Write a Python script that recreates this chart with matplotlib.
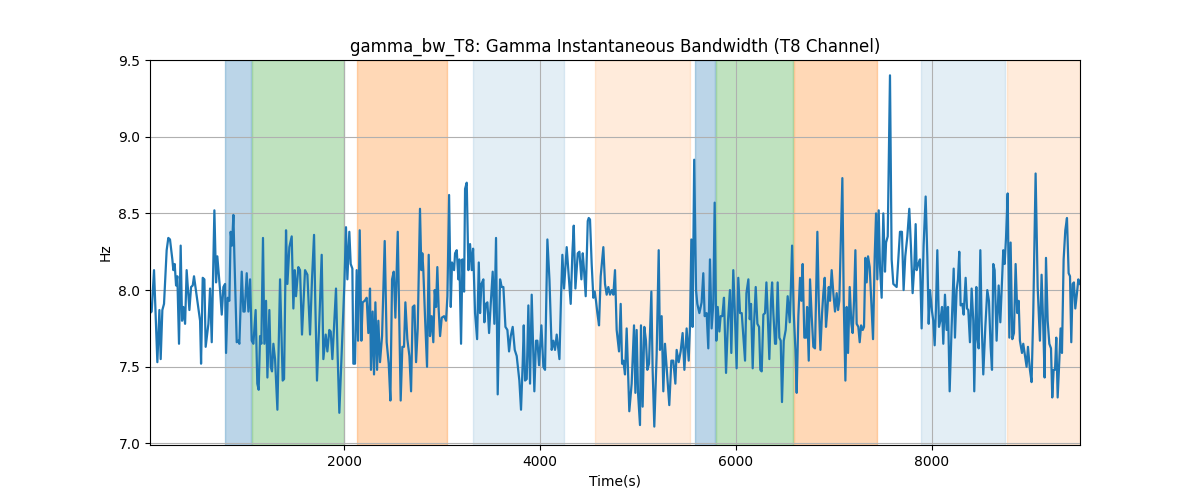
import numpy as np
import matplotlib
matplotlib.use("Agg")
import matplotlib.pyplot as plt

# time (s) and gamma bandwidth (Hz)
time_s = [
    20, 37, 61, 95, 116, 129, 146, 163, 190, 207, 224, 248, 258, 272, 286, 299, 316, 333, 347, 360,
    378, 394, 422, 439, 456, 469, 497, 531, 541, 558, 575, 588, 616, 633, 650, 677, 694, 707, 735, 752,
    769, 786, 796, 813, 830, 843, 857, 871, 881, 905, 922, 932, 956, 973, 986, 1007, 1024, 1041, 1058, 1075,
    1098, 1115, 1129, 1143, 1156, 1173, 1187, 1204, 1218, 1238, 1252, 1265, 1279, 1296, 1320, 1347, 1374, 1388, 1408, 1422,
    1442, 1466, 1483, 1497, 1510, 1534, 1551, 1571, 1602, 1626, 1653, 1673, 1694, 1707, 1724, 1748, 1772, 1789, 1813, 1830,
    1850, 1864, 1881, 1901, 1918, 1935, 1952, 1976, 2003, 2020, 2034, 2054, 2068, 2085, 2095, 2112, 2129, 2143, 2160, 2177,
    2190, 2211, 2231, 2248, 2265, 2275, 2292, 2306, 2320, 2337, 2350, 2367, 2388, 2415, 2435, 2456, 2473, 2490, 2507, 2524,
    2548, 2561, 2578, 2595, 2612, 2626, 2646, 2667, 2684, 2701, 2718, 2735, 2752, 2775, 2789, 2799, 2809, 2826, 2847, 2864,
    2877, 2894, 2911, 2925, 2939, 2952, 2966, 2980, 2997, 3021, 3041, 3055, 3072, 3089, 3102, 3123, 3133, 3150, 3167, 3177,
    3194, 3208, 3225, 3235, 3252, 3269, 3286, 3303, 3317, 3337, 3358, 3375, 3388, 3402, 3422, 3432, 3446, 3463, 3480, 3497,
    3517, 3534, 3551, 3568, 3592, 3609, 3626, 3647, 3667, 3684, 3701, 3721, 3742, 3762, 3789, 3806, 3823, 3834, 3847, 3864,
    3881, 3898, 3915, 3942, 3959, 3973, 3990, 4014, 4034, 4051, 4075, 4096, 4119, 4136, 4153, 4170, 4187, 4198, 4215, 4228,
    4245, 4272, 4293, 4313, 4330, 4344, 4361, 4385, 4402, 4422, 4436, 4449, 4466, 4487, 4497, 4510, 4527, 4544, 4558, 4571,
    4585, 4602, 4619, 4646, 4663, 4680, 4697, 4714, 4731, 4748, 4765, 4782, 4806, 4823, 4837, 4850, 4867, 4884, 4911, 4935,
    4959, 4973, 4986, 5000, 5020, 5030, 5047, 5064, 5081, 5095, 5112, 5136, 5149, 5166, 5190, 5211, 5224, 5241, 5258, 5275,
    5299, 5319, 5340, 5360, 5381, 5394, 5415, 5435, 5455, 5473, 5496, 5517, 5530, 5544, 5557, 5573, 5592, 5605, 5626, 5649,
    5666, 5680, 5700, 5717, 5734, 5751, 5768, 5782, 5799, 5813, 5830, 5843, 5860, 5877, 5898, 5918, 5938, 5952, 5972, 5986,
    6006, 6023, 6041, 6058, 6075, 6092, 6106, 6126, 6140, 6153, 6170, 6184, 6201, 6218, 6235, 6248, 6262, 6279, 6296, 6310,
    6323, 6340, 6357, 6368, 6381, 6398, 6408, 6425, 6442, 6456, 6469, 6487, 6507, 6527, 6548, 6558, 6572, 6589, 6606, 6619,
    6636, 6653, 6667, 6680, 6697, 6715, 6725, 6742, 6755, 6772, 6789, 6806, 6830, 6844, 6861, 6878, 6891, 6905, 6918, 6932,
    6946, 6959, 6976, 6993, 7010, 7027, 7041, 7054, 7085, 7099, 7116, 7129, 7143, 7160, 7177, 7190, 7204, 7218, 7231, 7248,
    7262, 7276, 7293, 7306, 7320, 7333, 7347, 7364, 7381, 7398, 7415, 7429, 7442, 7456, 7469, 7486, 7503, 7520, 7531, 7548,
    7571, 7588, 7605, 7622, 7639, 7656, 7673, 7693, 7710, 7727, 7748, 7768, 7785, 7802, 7819, 7833, 7843, 7860, 7877, 7894,
    7914, 7935, 7952, 7966, 7979, 8000, 8013, 8027, 8040, 8054, 8071, 8085, 8102, 8115, 8132, 8149, 8163, 8180, 8200, 8221,
    8234, 8251, 8265, 8278, 8292, 8309, 8323, 8343, 8357, 8370, 8387, 8404, 8421, 8431, 8452, 8462, 8476, 8493, 8506, 8523,
    8544, 8564, 8581, 8598, 8612, 8625, 8639, 8659, 8680, 8697, 8714, 8727, 8741, 8755, 8772, 8789, 8802, 8819, 8836, 8853,
    8870, 8884, 8897, 8918, 8931, 8945, 8965, 8979, 8999, 9016, 9033, 9057, 9078, 9101, 9118, 9135, 9149, 9163, 9180, 9197,
    9214, 9227, 9241, 9255, 9268, 9282, 9299, 9312, 9326, 9343, 9360, 9377, 9394, 9408, 9421, 9435, 9448, 9462, 9479, 9493,
    9510,
]
gamma_bw = [
    7.85, 7.86, 8.13, 7.53, 7.87, 7.55, 7.87, 7.91, 8.26, 8.34, 8.33, 8.20, 8.13, 8.17, 8.03, 8.09, 7.65, 8.29, 7.80, 7.89,
    7.78, 8.13, 7.87, 8.02, 8.03, 8.09, 7.96, 7.80, 7.52, 8.08, 8.07, 7.63, 7.78, 8.01, 7.66, 8.52, 8.05, 8.22, 8.00, 7.84,
    8.02, 8.04, 7.59, 7.95, 7.93, 8.38, 8.29, 8.49, 8.22, 7.66, 7.67, 7.65, 8.12, 7.86, 7.86, 8.11, 7.86, 8.07, 7.67, 7.65,
    7.87, 7.39, 7.35, 7.70, 7.65, 8.34, 7.65, 7.93, 7.43, 7.87, 7.50, 7.47, 7.65, 7.55, 7.22, 8.07, 7.41, 7.42, 8.39, 8.04,
    8.28, 8.35, 7.88, 8.13, 7.96, 8.15, 8.13, 7.71, 8.13, 8.10, 7.71, 8.07, 8.36, 7.91, 7.41, 7.80, 8.23, 7.55, 7.71, 7.60,
    7.74, 7.73, 7.55, 7.80, 8.01, 7.57, 7.20, 7.59, 8.03, 8.41, 8.07, 8.38, 8.17, 8.14, 7.52, 7.52, 8.13, 7.67, 8.39, 7.67,
    7.92, 7.93, 7.95, 7.72, 8.01, 7.48, 7.86, 7.45, 7.92, 7.48, 7.80, 7.53, 7.70, 8.32, 7.66, 7.52, 7.28, 8.07, 8.12, 7.82,
    8.38, 7.89, 7.28, 7.63, 7.63, 7.92, 7.68, 7.57, 7.34, 7.89, 7.90, 7.53, 7.75, 8.53, 8.13, 8.24, 8.13, 7.83, 7.50, 8.23,
    7.70, 7.83, 7.66, 8.00, 7.89, 8.15, 7.87, 7.70, 7.82, 7.83, 7.80, 7.96, 8.62, 7.89, 8.18, 8.13, 8.24, 8.26, 8.07, 8.20,
    7.65, 8.20, 7.99, 8.66, 8.70, 8.13, 8.30, 8.13, 8.27, 7.85, 7.68, 8.18, 7.85, 8.04, 8.07, 7.79, 7.91, 7.92, 7.72, 7.91,
    8.12, 7.78, 8.34, 7.32, 8.07, 8.02, 8.02, 7.76, 7.74, 7.60, 7.70, 7.76, 7.61, 7.57, 7.41, 7.22, 7.52, 7.77, 7.41, 7.42,
    7.90, 7.39, 7.97, 7.34, 7.67, 7.67, 7.51, 7.77, 7.50, 7.48, 8.33, 8.07, 7.61, 7.67, 7.61, 7.71, 7.61, 7.55, 7.97, 8.23,
    8.01, 8.28, 8.09, 7.91, 8.24, 8.42, 8.01, 8.24, 8.25, 8.07, 8.24, 8.13, 7.96, 8.45, 8.47, 8.46, 8.17, 7.95, 7.99, 7.93,
    7.85, 7.77, 8.09, 8.28, 8.04, 7.97, 8.02, 7.97, 8.00, 7.97, 8.13, 7.74, 7.60, 7.91, 7.52, 7.54, 7.45, 7.75, 7.21, 7.39,
    7.77, 7.33, 7.74, 7.33, 7.12, 7.77, 7.24, 7.76, 7.67, 7.48, 7.52, 7.99, 7.48, 7.11, 7.58, 8.26, 7.61, 7.83, 7.34, 7.65,
    7.43, 7.25, 7.54, 7.54, 7.39, 7.61, 7.53, 7.60, 7.72, 7.48, 7.75, 7.54, 7.76, 8.33, 7.76, 8.85, 8.00, 7.91, 7.85, 7.92,
    8.11, 7.83, 7.85, 7.62, 8.20, 7.75, 7.91, 8.57, 7.67, 7.89, 7.73, 7.83, 7.83, 7.95, 7.46, 7.80, 8.00, 7.59, 8.13, 7.89,
    7.49, 8.08, 7.85, 7.85, 7.69, 7.54, 7.98, 8.07, 7.81, 7.91, 7.49, 7.78, 8.02, 7.78, 7.76, 7.48, 7.47, 7.84, 7.85, 8.05,
    7.85, 7.55, 7.93, 8.05, 7.85, 7.65, 7.65, 8.05, 7.69, 7.67, 7.27, 7.67, 7.74, 7.96, 7.79, 7.98, 8.29, 7.85, 7.61, 7.33,
    7.83, 8.08, 7.93, 8.17, 7.69, 7.69, 7.89, 7.54, 8.07, 7.83, 7.63, 7.62, 8.38, 7.93, 7.61, 7.85, 7.98, 8.08, 7.76, 7.87,
    8.02, 7.93, 8.13, 7.98, 7.86, 7.98, 7.87, 7.93, 8.73, 7.93, 7.41, 7.89, 7.59, 8.02, 7.78, 7.72, 7.93, 8.26, 7.78, 7.76,
    7.66, 7.77, 7.74, 7.76, 8.21, 8.05, 8.22, 8.15, 7.91, 7.68, 8.22, 8.50, 8.07, 8.52, 8.15, 7.95, 8.50, 8.12, 8.31, 8.35,
    9.40, 8.20, 8.04, 8.03, 8.02, 8.20, 8.38, 8.38, 8.00, 8.22, 8.35, 8.53, 8.28, 7.98, 8.15, 8.43, 8.13, 8.17, 8.20, 7.75,
    8.29, 8.61, 8.22, 7.78, 8.00, 7.86, 7.80, 7.64, 7.88, 8.26, 7.76, 7.80, 7.89, 7.65, 7.97, 7.74, 7.89, 7.34, 7.76, 8.14,
    7.69, 8.00, 8.07, 8.25, 7.90, 7.91, 7.84, 8.08, 7.88, 7.87, 7.66, 8.01, 7.80, 7.34, 8.02, 7.69, 7.62, 8.26, 7.80, 7.45,
    7.76, 8.00, 7.93, 7.63, 7.48, 8.17, 8.13, 7.67, 8.03, 7.79, 8.05, 8.26, 8.17, 8.34, 8.63, 7.69, 8.31, 7.68, 7.72, 8.17,
    7.85, 7.93, 7.67, 7.59, 7.65, 7.59, 7.50, 7.63, 7.48, 7.40, 7.85, 8.76, 8.02, 7.67, 8.10, 7.76, 7.43, 8.21, 7.80, 7.65,
    7.62, 7.30, 7.48, 7.48, 7.69, 7.30, 7.54, 7.75, 7.59, 8.20, 8.39, 8.47, 8.11, 8.09, 7.66, 8.04, 8.05, 7.88, 7.98, 8.07,
    8.04,
]

# shaded segments: start, end, colour, alpha
span_start = [786, 1060, 2130, 3316, 4565, 5582, 5795, 6592, 7888, 8765]
span_end = [1055, 2000, 3050, 4248, 5528, 5789, 6578, 7436, 8748, 9510]
span_color = ["tab:blue", "tab:green", "tab:orange", "tab:blue", "tab:orange",
              "tab:blue", "tab:green", "tab:orange", "tab:blue", "tab:orange"]
span_alpha = [0.3, 0.3, 0.3, 0.12, 0.15, 0.3, 0.3, 0.3, 0.12, 0.15]

fig, ax = plt.subplots(figsize=(12, 5), dpi=100)

for s, e, c, a in zip(span_start, span_end, span_color, span_alpha):
    ax.axvspan(s, e, color=c, alpha=a)

ax.plot(time_s, gamma_bw, color="tab:blue", linewidth=1.6)

ax.set_xlim(time_s[0], time_s[-1])
ax.set_ylim(6.99, 9.5)
ax.set_xticks([2000, 4000, 6000, 8000])
ax.grid(True, color="#b0b0b0", linewidth=0.8)
ax.set_title("gamma_bw_T8: Gamma Instantaneous Bandwidth (T8 Channel)")
ax.set_xlabel("Time(s)")
ax.set_ylabel("Hz")

fig.savefig("out.png", dpi=100)
